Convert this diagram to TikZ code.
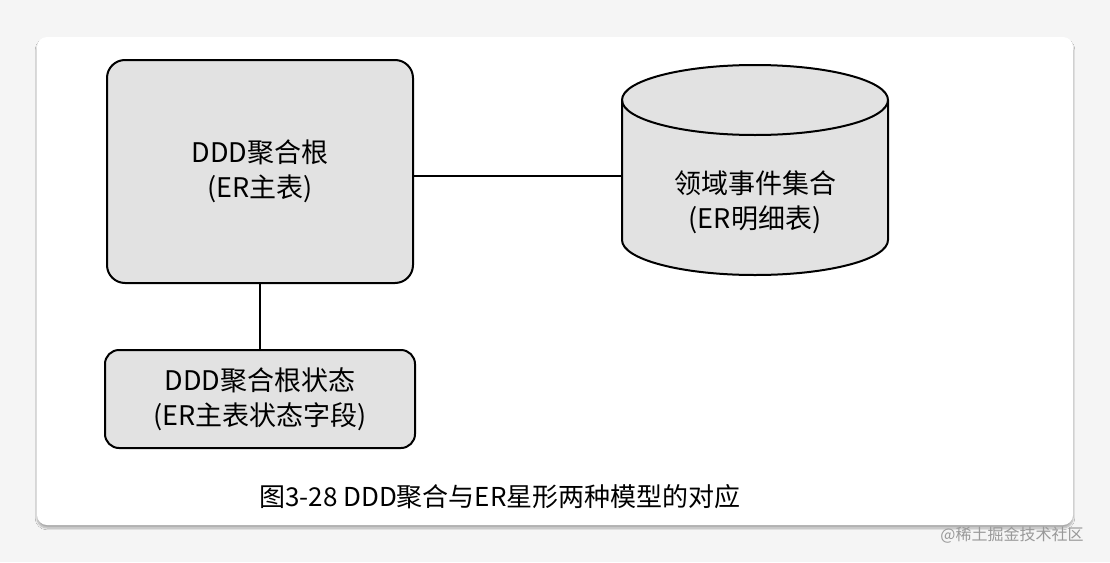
\documentclass[tikz,border=0pt]{standalone}
\usepackage{fontspec}
\newfontfamily\cjk{Noto Sans CJK SC}
\usetikzlibrary{shadows.blur}
\definecolor{boxfill}{HTML}{E2E2E2}
\begin{document}
\begin{tikzpicture}[x=1pt,y=-1pt,
  rbox/.style={draw=black,line width=2pt,fill=boxfill,rounded corners=18pt,font=\cjk\fontsize{27}{35}\selectfont,align=center,inner sep=0pt},
  conn/.style={draw=black,line width=1.5pt}]
\useasboundingbox (0,0) rectangle (1110,562);
\fill[white!96!black] (0,0) rectangle (1110,562);
\fill[white,rounded corners=10pt,blur shadow={shadow blur steps=8,shadow xshift=0pt,shadow yshift=-3pt,shadow opacity=30}] (37,37) rectangle (1073,525);
\node[rbox,minimum width=306pt,minimum height=223pt] (root) at (260,171.5) {DDD聚合根\\(ER主表)};
\node[rbox,minimum width=310pt,minimum height=98pt,rounded corners=14pt] (state) at (260,399) {DDD聚合根状态\\(ER主表状态字段)};
% cylinder
\draw[line width=2pt,fill=boxfill] (622,100) -- (622,240) arc[start angle=180,end angle=0,x radius=133,y radius=35] -- (888,100) arc[start angle=0,end angle=-180,x radius=133,y radius=35] -- cycle;
\draw[line width=2pt] (622,100) arc[start angle=180,end angle=0,x radius=133,y radius=35];
\node[inner sep=0pt,align=center,font=\cjk\fontsize{27}{35}\selectfont] (cyl) at (755,202) {领域事件集合\\(ER明细表)};
\coordinate (cylL) at (622,176);
\draw[conn] (root.east |- cylL) -- (cylL);
\draw[conn] (root.south) -- (state.north);
\node[font=\cjk\fontsize{26}{30}\selectfont] (cap) at (500,497) {图3-28 DDD聚合与ER星形两种模型的对应};
\node[font=\cjk\fontsize{16}{20}\selectfont,text=gray!80] (wm) at (1012,535) {@稀土掘金技术社区};
\end{tikzpicture}
\end{document}
